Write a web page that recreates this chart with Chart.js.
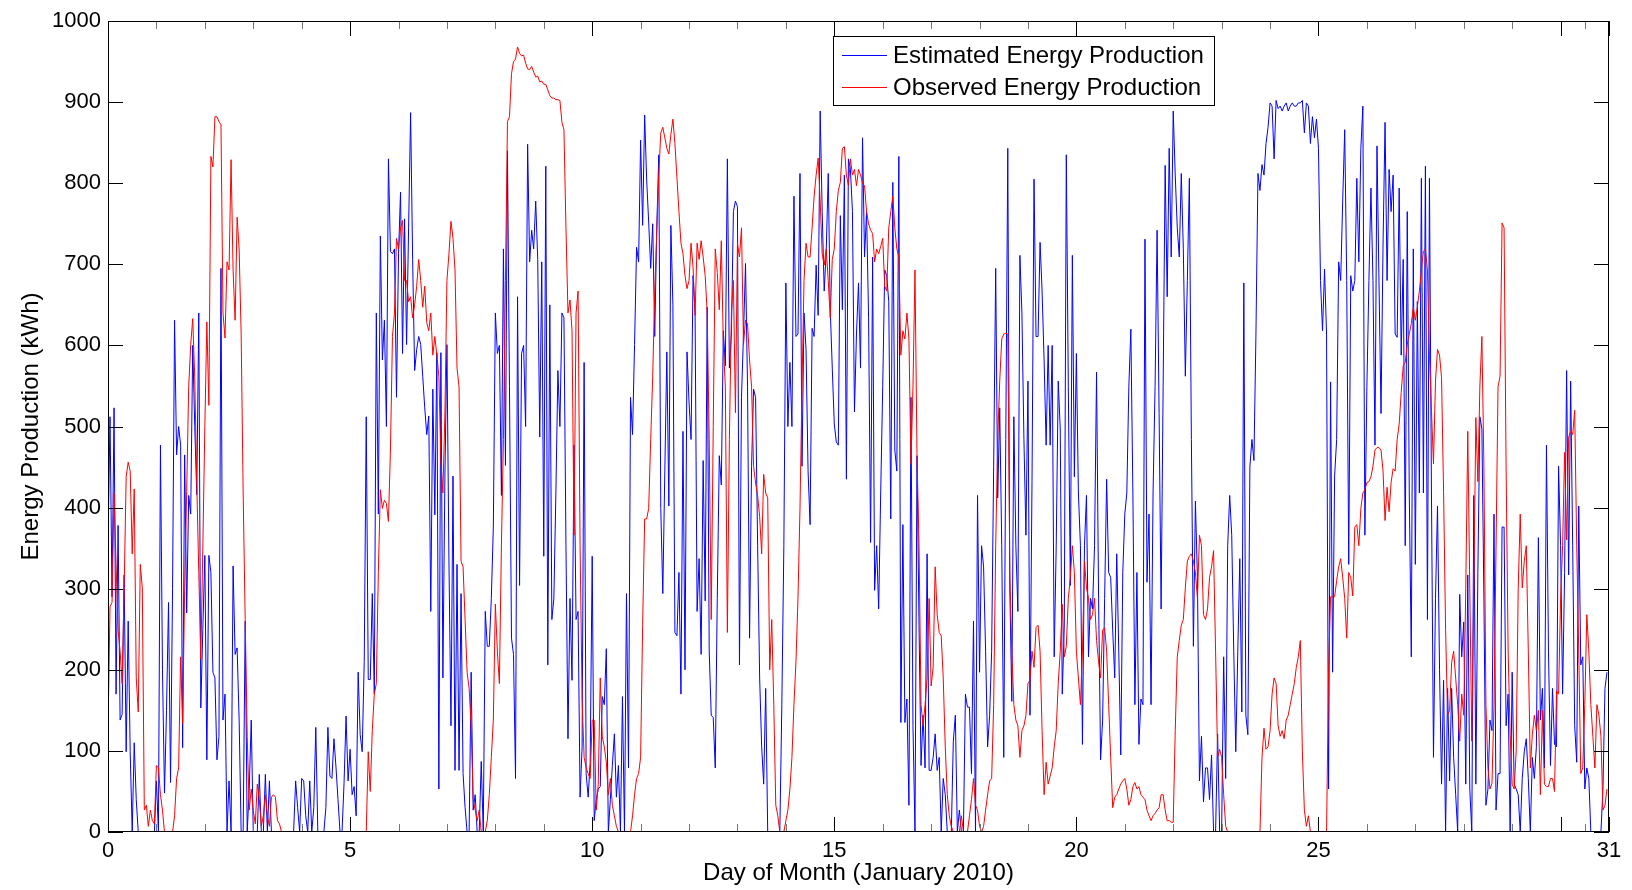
<!DOCTYPE html>
<html>
<head>
<meta charset="utf-8">
<title>Energy Production - January 2010</title>
<script src="https://cdn.jsdelivr.net/npm/chart.js@4.4.1/dist/chart.umd.min.js"></script>
<style>
  html, body { margin: 0; padding: 0; background: #fff; }
  #chartContainer { position: relative; width: 1632px; height: 890px; }
</style>
</head>
<body>
<div id="chartContainer"><canvas id="energyChart"></canvas></div>
<script>
// hourly readings, 1 Jan 2010 00:00 .. 31 Jan 2010 23:00 (kWh)
const hoursPerDay = 24;

const estimatedEnergy = [
  355, 512, 290, 523, 170, 378, 138, 145, 317, 99,
  260, 99, 0, 110, 40, 0, 0, 0, 0, 0,
  0, 0, 0, 0, 63, 0, 477, 200, 48, 150,
  283, 61, 300, 631, 465, 500, 477, 104, 465, 270,
  415, 392, 600, 500, 416, 640, 153, 250, 341, 89,
  341, 320, 197, 190, 89, 118, 695, 138, 170, 0,
  63, 0, 328, 219, 227, 138, 0, 0, 260, 0,
  53, 138, 0, 0, 0, 71, 0, 0, 71, 0,
  63, 0, 0, 0, 0, 0, 0, 0, 0, 0,
  0, 0, 0, 63, 30, 0, 66, 63, 20, 0,
  63, 0, 30, 129, 0, 0, 0, 0, 30, 129,
  69, 66, 115, 80, 40, 0, 0, 60, 143, 63,
  102, 46, 56, 20, 197, 120, 99, 210, 512, 188,
  188, 294, 170, 640, 392, 735, 582, 631, 500, 830,
  716, 713, 719, 536, 713, 789, 590, 756, 601, 745,
  887, 706, 569, 595, 611, 601, 562, 523, 490, 513,
  272, 546, 391, 591, 53, 591, 190, 439, 601, 334,
  131, 439, 76, 330, 76, 294, 72, 30, 0, 0,
  197, 27, 46, 0, 0, 87, 0, 272, 229, 229,
  288, 376, 640, 590, 600, 415, 719, 452, 840, 549,
  239, 219, 66, 660, 304, 590, 600, 500, 848, 703,
  742, 719, 778, 706, 487, 703, 340, 821, 206, 650,
  262, 288, 418, 569, 500, 640, 634, 353, 115, 288,
  187, 477, 262, 272, 43, 105, 579, 72, 43, 86,
  340, 14, 40, 53, 56, 167, 157, 226, 0, 40,
  82, 121, 43, 82, 0, 167, 0, 294, 79, 536,
  490, 601, 721, 703, 853, 748, 884, 804, 752, 695,
  750, 611, 745, 835, 399, 294, 445, 592, 402, 748,
  650, 246, 242, 320, 170, 494, 200, 592, 530, 484,
  686, 640, 272, 337, 219, 458, 285, 647, 223, 144,
  141, 79, 288, 464, 428, 618, 575, 830, 572, 614,
  765, 778, 771, 206, 536, 614, 701, 549, 239, 451,
  546, 536, 353, 190, 105, 59, 177, 0, 0, 0,
  0, 0, 0, 0, 157, 353, 677, 500, 579, 500,
  784, 611, 614, 812, 451, 640, 595, 445, 379, 621,
  611, 699, 637, 889, 765, 667, 716, 812, 644, 572,
  503, 481, 477, 760, 644, 810, 435, 830, 817, 765,
  518, 614, 677, 572, 856, 709, 765, 634, 357, 709,
  298, 353, 275, 418, 549, 693, 686, 654, 386, 801,
  471, 445, 833, 135, 379, 135, 164, 33, 536, 131,
  0, 464, 255, 82, 144, 79, 343, 76, 76, 92,
  121, 76, 92, 0, 66, 46, 0, 0, 0, 112,
  144, 0, 27, 0, 0, 170, 154, 154, 72, 260,
  0, 415, 197, 353, 327, 223, 105, 144, 223, 451,
  695, 412, 523, 353, 92, 484, 843, 301, 161, 512,
  353, 272, 711, 640, 484, 366, 556, 144, 432, 805,
  611, 611, 727, 667, 582, 477, 600, 477, 600, 216,
  353, 556, 497, 170, 255, 835, 549, 304, 711, 438,
  590, 418, 353, 108, 353, 415, 216, 288, 275, 353,
  567, 288, 89, 138, 288, 435, 320, 314, 249, 190,
  343, 223, 95, 320, 392, 418, 549, 620, 418, 157,
  320, 108, 164, 157, 731, 308, 392, 157, 418, 549,
  742, 516, 275, 549, 822, 660, 843, 709, 889, 810,
  745, 709, 812, 719, 562, 680, 806, 484, 229, 408,
  314, 63, 118, 37, 79, 79, 40, 95, 0, 0,
  121, 0, 0, 216, 66, 353, 415, 366, 223, 99,
  223, 337, 148, 677, 144, 120, 450, 484, 458, 614,
  812, 791, 823, 810, 849, 869, 899, 895, 830, 902,
  892, 895, 889, 895, 899, 889, 895, 899, 895, 895,
  899, 899, 902, 862, 899, 895, 849, 882, 856, 879,
  843, 680, 618, 694, 614, 53, 555, 197, 439, 484,
  703, 680, 778, 866, 680, 330, 686, 667, 680, 806,
  703, 843, 895, 366, 549, 680, 794, 680, 477, 846,
  677, 516, 725, 875, 680, 817, 765, 810, 614, 610,
  794, 588, 706, 353, 765, 418, 216, 719, 330, 654,
  418, 806, 418, 821, 262, 806, 418, 92, 288, 402,
  200, 59, 187, 0, 177, 63, 177, 92, 46, 0,
  293, 216, 259, 59, 317, 53, 0, 415, 59, 320,
  512, 497, 288, 33, 53, 138, 125, 392, 27, 72,
  72, 376, 376, 131, 170, 0, 197, 59, 53, 46,
  0, 66, 99, 115, 66, 0, 92, 66, 105, 363,
  138, 177, 79, 477, 223, 82, 177, 108, 105, 451,
  353, 170, 320, 569, 317, 556, 353, 131, 86, 402,
  206, 216, 53, 79, 66, 0, 0, 0, 0, 0,
  0, 53, 177, 197
];

const observedEnergy = [
  125, 278, 283, 418, 330, 249, 223, 183, 300, 438,
  456, 445, 343, 423, 190, 148, 330, 301, 27, 33,
  7, 27, 14, 10, 82, 79, 46, 27, 0, 0,
  0, 0, 0, 20, 66, 79, 216, 134, 300, 420,
  549, 601, 633, 560, 430, 320, 213, 350, 500, 629,
  526, 833, 820, 882, 882, 876, 872, 640, 609, 703,
  693, 829, 693, 631, 758, 719, 614, 418, 262, 118,
  27, 53, 27, 10, 59, 40, 7, 20, 46, 20,
  7, 43, 46, 43, 14, 10, 0, 0, 0, 0,
  0, 0, 0, 0, 0, 0, 0, 0, 0, 0,
  0, 0, 0, 0, 0, 0, 0, 0, 0, 0,
  0, 0, 0, 0, 0, 0, 0, 0, 0, 0,
  0, 0, 0, 0, 0, 0, 0, 0, 0, 99,
  50, 125, 170, 183, 320, 422, 399, 409, 405, 383,
  471, 611, 640, 732, 719, 745, 754, 680, 680, 654,
  660, 634, 650, 673, 706, 680, 647, 673, 628, 618,
  640, 588, 611, 588, 562, 458, 418, 517, 680, 713,
  753, 732, 693, 572, 549, 334, 327, 262, 197, 177,
  131, 40, 27, 14, 27, 0, 0, 0, 14, 46,
  92, 138, 281, 223, 183, 353, 484, 680, 876, 882,
  935, 950, 953, 968, 960, 957, 958, 948, 941, 940,
  944, 937, 931, 932, 925, 926, 922, 922, 915, 908,
  905, 905, 903, 903, 902, 875, 866, 745, 640, 656,
  618, 366, 640, 667, 353, 164, 92, 79, 72, 66,
  138, 138, 27, 59, 190, 118, 105, 86, 46, 66,
  33, 20, 7, 0, 0, 0, 0, 0, 0, 0,
  20, 46, 66, 72, 92, 255, 386, 386, 399, 484,
  562, 667, 739, 810, 862, 869, 856, 843, 836, 860,
  879, 849, 807, 765, 726, 713, 686, 670, 680, 726,
  696, 637, 726, 706, 729, 709, 686, 640, 484, 262,
  500, 719, 690, 644, 729, 601, 549, 246, 484, 640,
  680, 517, 726, 709, 745, 601, 631, 627, 582, 549,
  451, 430, 415, 389, 343, 441, 418, 412, 200, 262,
  157, 33, 20, 0, 0, 0, 14, 27, 53, 92,
  157, 210, 288, 399, 549, 680, 726, 709, 709, 745,
  784, 810, 831, 778, 713, 699, 719, 680, 634, 706,
  719, 765, 791, 801, 843, 845, 810, 797, 830, 810,
  817, 797, 817, 810, 800, 797, 765, 750, 742, 738,
  703, 719, 713, 722, 732, 673, 667, 745, 765, 784,
  745, 719, 709, 588, 618, 608, 640, 608, 454, 549,
  693, 464, 353, 157, 131, 157, 190, 288, 180, 203,
  327, 268, 246, 242, 190, 105, 46, 20, 7, 0,
  0, 0, 0, 20, 0, 0, 0, 20, 40, 66,
  33, 27, 7, 0, 7, 27, 46, 63, 66, 157,
  353, 484, 556, 608, 614, 615, 614, 320, 223, 157,
  138, 131, 92, 125, 131, 144, 183, 187, 223, 203,
  252, 255, 223, 125, 46, 86, 59, 69, 79, 105,
  125, 183, 223, 281, 216, 229, 288, 314, 353, 320,
  223, 190, 157, 223, 334, 301, 288, 262, 268, 288,
  236, 210, 190, 249, 252, 223, 157, 92, 30, 43,
  46, 53, 59, 63, 66, 53, 33, 40, 56, 61,
  53, 56, 46, 43, 40, 27, 20, 14, 20, 23,
  27, 30, 46, 46, 27, 14, 14, 12, 12, 125,
  216, 236, 255, 262, 301, 334, 340, 343, 334, 320,
  288, 366, 353, 268, 262, 275, 314, 327, 347, 223,
  92, 102, 92, 46, 7, 0, 0, 0, 0, 0,
  0, 0, 0, 0, 0, 0, 0, 0, 0, 0,
  0, 0, 92, 128, 102, 105, 125, 170, 190, 183,
  131, 118, 125, 115, 138, 144, 157, 170, 183, 203,
  216, 236, 100, 27, 7, 20, 0, 0, 0, 0,
  0, 0, 0, 0, 0, 200, 290, 290, 290, 310,
  327, 337, 314, 288, 239, 320, 314, 291, 376, 379,
  353, 399, 418, 422, 431, 432, 438, 451, 471, 474,
  474, 471, 445, 384, 425, 395, 431, 448, 445, 484,
  503, 542, 575, 579, 601, 614, 627, 647, 631, 647,
  667, 693, 716, 719, 693, 588, 520, 454, 556, 595,
  588, 560, 420, 250, 144, 150, 209, 223, 190, 157,
  112, 170, 144, 300, 494, 300, 112, 300, 511, 432,
  550, 611, 450, 157, 79, 53, 60, 157, 350, 549,
  562, 751, 745, 450, 223, 120, 59, 53, 100, 300,
  392, 301, 334, 353, 223, 79, 120, 144, 125, 150,
  46, 150, 59, 56, 56, 66, 66, 50, 174, 170,
  288, 353, 468, 360, 487, 494, 490, 520, 353, 223,
  72, 79, 157, 268, 223, 157, 118, 79, 157, 144,
  118, 27, 33, 53
];

// axis ticks (MATLAB style, drawn inwards on all four sides)
const xLabelDays = [0, 5, 10, 15, 20, 25, 31];
const xMajorTicks = [0, 5, 10, 15, 20, 25, 30, 31];
const xMinorTicks = [1, 2, 3, 4, 6, 7, 8, 9, 11, 12, 13, 14, 16, 17, 18, 19,
  21, 22, 23, 24, 26, 27, 28, 29, 30.5];
const yTicks = [0, 100, 200, 300, 400, 500, 600, 700, 800, 900, 1000];

const seriesLabels = ["Estimated Energy Production", "Observed Energy Production"];
const seriesColors = ["#0000ff", "#ff0000"];

const fontFamily = "'Liberation Sans', Arial, Helvetica, sans-serif";

function toPoints(values) {
  return values.map((v, i) => ({ x: i / hoursPerDay, y: v }));
}

// box, inward ticks, x tick labels and a boxed legend like the MATLAB figure
const matlabAxes = {
  id: "matlabAxes",
  afterDraw(chart) {
    const { ctx, chartArea: a, scales } = chart;
    const x = scales.x;
    const y = scales.y;
    ctx.save();
    ctx.lineWidth = 1;

    function xTick(d, color, len) {
      const px = Math.round(x.getPixelForValue(d)) + 0.5;
      ctx.strokeStyle = color;
      ctx.beginPath();
      ctx.moveTo(px, a.bottom);
      ctx.lineTo(px, a.bottom - len);
      ctx.moveTo(px, a.top);
      ctx.lineTo(px, a.top + len);
      ctx.stroke();
    }
    xMinorTicks.forEach((d) => xTick(d, "#777", 8));
    xMajorTicks.forEach((d) => xTick(d, "#000", 15));

    ctx.strokeStyle = "#000";
    ctx.beginPath();
    yTicks.forEach((v) => {
      const py = Math.round(y.getPixelForValue(v)) + 0.5;
      ctx.moveTo(a.left, py);
      ctx.lineTo(a.left + 15, py);
      ctx.moveTo(a.right, py);
      ctx.lineTo(a.right - 15, py);
    });
    ctx.stroke();

    ctx.strokeRect(Math.round(a.left) + 0.5, Math.round(a.top) + 0.5,
      Math.round(a.width) - 1, Math.round(a.height) - 1);

    // x tick labels
    ctx.fillStyle = "#000";
    ctx.font = "22px " + fontFamily;
    ctx.textAlign = "center";
    ctx.textBaseline = "middle";
    xLabelDays.forEach((d) => {
      ctx.fillText(String(d), x.getPixelForValue(d), a.bottom + 19);
    });

    // legend
    const lx = 833, ly = 36, lw = 381, lh = 69;
    ctx.fillStyle = "#fff";
    ctx.fillRect(lx, ly, lw, lh);
    ctx.strokeStyle = "#000";
    ctx.strokeRect(lx + 0.5, ly + 0.5, lw, lh);
    ctx.font = "24px " + fontFamily;
    ctx.textBaseline = "middle";
    ctx.textAlign = "left";
    const rows = [55, 87];
    chart.data.datasets.forEach((ds, i) => {
      ctx.strokeStyle = ds.borderColor;
      ctx.beginPath();
      ctx.moveTo(842, rows[i] + 0.5);
      ctx.lineTo(887, rows[i] + 0.5);
      ctx.stroke();
      ctx.fillStyle = "#000";
      ctx.fillText(ds.label, 893, rows[i] + 1);
    });
    ctx.restore();
  },
};

const ctx = document.getElementById("energyChart").getContext("2d");

window.chart = new Chart(ctx, {
  type: "line",
  data: {
    datasets: [
      {
        label: seriesLabels[0],
        data: toPoints(estimatedEnergy),
        borderColor: seriesColors[0],
        borderWidth: 1,
        pointRadius: 0,
        tension: 0,
        order: 1,
      },
      {
        label: seriesLabels[1],
        data: toPoints(observedEnergy),
        borderColor: seriesColors[1],
        borderWidth: 1,
        pointRadius: 0,
        tension: 0,
        order: 0,
      },
    ],
  },
  options: {
    responsive: true,
    maintainAspectRatio: false,
    animation: false,
    events: [],
    layout: {
      padding: { left: 0, top: 21, right: 23, bottom: 0 },
    },
    plugins: {
      legend: { display: false },
      tooltip: { enabled: false },
    },
    scales: {
      x: {
        type: "linear",
        min: 0,
        max: 31,
        grid: { display: false, drawTicks: false },
        border: { display: false },
        ticks: { display: false, stepSize: 1 },
        title: {
          display: true,
          text: "Day of Month (January 2010)",
          color: "#000",
          font: { family: fontFamily, size: 24 },
          padding: { top: 0, bottom: 2 },
        },
        afterFit: (scale) => {
          scale.height = 58;
        },
      },
      y: {
        min: 0,
        max: 1000,
        grid: { display: false, drawTicks: false },
        border: { display: false },
        ticks: {
          stepSize: 100,
          padding: 7,
          color: "#000",
          font: { family: fontFamily, size: 22 },
          callback: (value) => String(value),
        },
        title: {
          display: true,
          text: "Energy Production (kWh)",
          color: "#000",
          font: { family: fontFamily, size: 24 },
          padding: { top: 17, bottom: 0 },
        },
        afterFit: (scale) => {
          scale.width = 108;
        },
      },
    },
  },
  plugins: [matlabAxes],
});
</script>
</body>
</html>
